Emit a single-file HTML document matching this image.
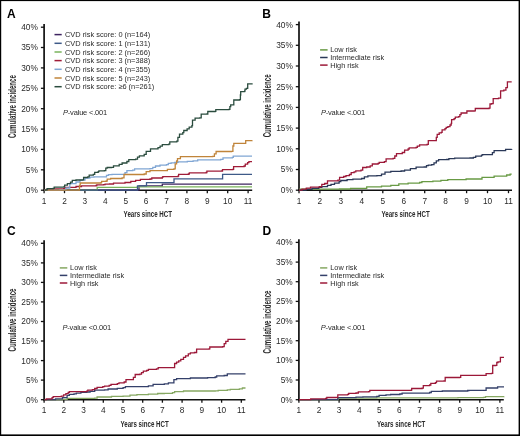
<!DOCTYPE html>
<html><head><meta charset="utf-8"><title>Cumulative incidence</title><style>html,body{margin:0;padding:0;background:#fff;width:520px;height:436px;overflow:hidden}svg{display:block;filter:blur(0.3px)}</style></head><body>
<svg width="520" height="436" viewBox="0 0 520 436">
<style>text{font-family:"Liberation Sans", sans-serif;fill:#2a2a2a}.tl{font-size:8.3px}.lg{font-size:7.2px}.pv{font-size:7.5px}.let{font-size:12px;font-weight:bold;fill:#000}.ttl{font-size:10.4px;font-weight:bold}.ttl2{font-size:9.8px;font-weight:bold}</style>
<rect x="0" y="0" width="520" height="436" fill="#fff"/>
<line x1="44.1" y1="24.0" x2="44.1" y2="191.0" stroke="#111" stroke-width="1.7"/>
<line x1="43.3" y1="190.2" x2="252.2" y2="190.2" stroke="#111" stroke-width="1.5"/>
<line x1="40.9" y1="190.2" x2="44.1" y2="190.2" stroke="#111" stroke-width="1.3"/>
<text x="37.8" y="193.1" class="tl" text-anchor="end">0%</text>
<line x1="40.9" y1="169.8" x2="44.1" y2="169.8" stroke="#111" stroke-width="1.3"/>
<text x="37.8" y="172.7" class="tl" text-anchor="end">5%</text>
<line x1="40.9" y1="149.4" x2="44.1" y2="149.4" stroke="#111" stroke-width="1.3"/>
<text x="37.8" y="152.3" class="tl" text-anchor="end">10%</text>
<line x1="40.9" y1="129.1" x2="44.1" y2="129.1" stroke="#111" stroke-width="1.3"/>
<text x="37.8" y="132.0" class="tl" text-anchor="end">15%</text>
<line x1="40.9" y1="108.7" x2="44.1" y2="108.7" stroke="#111" stroke-width="1.3"/>
<text x="37.8" y="111.6" class="tl" text-anchor="end">20%</text>
<line x1="40.9" y1="88.3" x2="44.1" y2="88.3" stroke="#111" stroke-width="1.3"/>
<text x="37.8" y="91.2" class="tl" text-anchor="end">25%</text>
<line x1="40.9" y1="67.9" x2="44.1" y2="67.9" stroke="#111" stroke-width="1.3"/>
<text x="37.8" y="70.8" class="tl" text-anchor="end">30%</text>
<line x1="40.9" y1="47.5" x2="44.1" y2="47.5" stroke="#111" stroke-width="1.3"/>
<text x="37.8" y="50.4" class="tl" text-anchor="end">35%</text>
<line x1="40.9" y1="27.2" x2="44.1" y2="27.2" stroke="#111" stroke-width="1.3"/>
<text x="37.8" y="30.1" class="tl" text-anchor="end">40%</text>
<line x1="44.1" y1="190.2" x2="44.1" y2="193.2" stroke="#111" stroke-width="1.3"/>
<text x="44.1" y="203.8" class="tl" text-anchor="middle">1</text>
<line x1="64.5" y1="190.2" x2="64.5" y2="193.2" stroke="#111" stroke-width="1.3"/>
<text x="64.5" y="203.8" class="tl" text-anchor="middle">2</text>
<line x1="84.9" y1="190.2" x2="84.9" y2="193.2" stroke="#111" stroke-width="1.3"/>
<text x="84.9" y="203.8" class="tl" text-anchor="middle">3</text>
<line x1="105.3" y1="190.2" x2="105.3" y2="193.2" stroke="#111" stroke-width="1.3"/>
<text x="105.3" y="203.8" class="tl" text-anchor="middle">4</text>
<line x1="125.7" y1="190.2" x2="125.7" y2="193.2" stroke="#111" stroke-width="1.3"/>
<text x="125.7" y="203.8" class="tl" text-anchor="middle">5</text>
<line x1="146.1" y1="190.2" x2="146.1" y2="193.2" stroke="#111" stroke-width="1.3"/>
<text x="146.1" y="203.8" class="tl" text-anchor="middle">6</text>
<line x1="166.5" y1="190.2" x2="166.5" y2="193.2" stroke="#111" stroke-width="1.3"/>
<text x="166.5" y="203.8" class="tl" text-anchor="middle">7</text>
<line x1="186.9" y1="190.2" x2="186.9" y2="193.2" stroke="#111" stroke-width="1.3"/>
<text x="186.9" y="203.8" class="tl" text-anchor="middle">8</text>
<line x1="207.3" y1="190.2" x2="207.3" y2="193.2" stroke="#111" stroke-width="1.3"/>
<text x="207.3" y="203.8" class="tl" text-anchor="middle">9</text>
<line x1="227.7" y1="190.2" x2="227.7" y2="193.2" stroke="#111" stroke-width="1.3"/>
<text x="227.7" y="203.8" class="tl" text-anchor="middle">10</text>
<line x1="248.1" y1="190.2" x2="248.1" y2="193.2" stroke="#111" stroke-width="1.3"/>
<text x="248.1" y="203.8" class="tl" text-anchor="middle">11</text>
<text x="7.0" y="17.8" class="let">A</text>
<text class="ttl" text-anchor="middle" transform="translate(16.1 106.6) rotate(-90) scale(0.59 1)">Cumulative incidence</text>
<text class="ttl2" text-anchor="middle" transform="translate(147.8 216.7) scale(0.63 1)">Years since HCT</text>
<line x1="299.0" y1="21.4" x2="299.0" y2="191.0" stroke="#111" stroke-width="1.7"/>
<line x1="298.2" y1="190.2" x2="512.0" y2="190.2" stroke="#111" stroke-width="1.5"/>
<line x1="295.8" y1="190.2" x2="299.0" y2="190.2" stroke="#111" stroke-width="1.3"/>
<text x="292.8" y="193.1" class="tl" text-anchor="end">0%</text>
<line x1="295.8" y1="169.5" x2="299.0" y2="169.5" stroke="#111" stroke-width="1.3"/>
<text x="292.8" y="172.4" class="tl" text-anchor="end">5%</text>
<line x1="295.8" y1="148.8" x2="299.0" y2="148.8" stroke="#111" stroke-width="1.3"/>
<text x="292.8" y="151.7" class="tl" text-anchor="end">10%</text>
<line x1="295.8" y1="128.1" x2="299.0" y2="128.1" stroke="#111" stroke-width="1.3"/>
<text x="292.8" y="131.0" class="tl" text-anchor="end">15%</text>
<line x1="295.8" y1="107.4" x2="299.0" y2="107.4" stroke="#111" stroke-width="1.3"/>
<text x="292.8" y="110.3" class="tl" text-anchor="end">20%</text>
<line x1="295.8" y1="86.7" x2="299.0" y2="86.7" stroke="#111" stroke-width="1.3"/>
<text x="292.8" y="89.6" class="tl" text-anchor="end">25%</text>
<line x1="295.8" y1="66.0" x2="299.0" y2="66.0" stroke="#111" stroke-width="1.3"/>
<text x="292.8" y="68.9" class="tl" text-anchor="end">30%</text>
<line x1="295.8" y1="45.3" x2="299.0" y2="45.3" stroke="#111" stroke-width="1.3"/>
<text x="292.8" y="48.2" class="tl" text-anchor="end">35%</text>
<line x1="295.8" y1="24.6" x2="299.0" y2="24.6" stroke="#111" stroke-width="1.3"/>
<text x="292.8" y="27.5" class="tl" text-anchor="end">40%</text>
<line x1="299.0" y1="190.2" x2="299.0" y2="193.2" stroke="#111" stroke-width="1.3"/>
<text x="299.0" y="203.8" class="tl" text-anchor="middle">1</text>
<line x1="319.9" y1="190.2" x2="319.9" y2="193.2" stroke="#111" stroke-width="1.3"/>
<text x="319.9" y="203.8" class="tl" text-anchor="middle">2</text>
<line x1="340.9" y1="190.2" x2="340.9" y2="193.2" stroke="#111" stroke-width="1.3"/>
<text x="340.9" y="203.8" class="tl" text-anchor="middle">3</text>
<line x1="361.9" y1="190.2" x2="361.9" y2="193.2" stroke="#111" stroke-width="1.3"/>
<text x="361.9" y="203.8" class="tl" text-anchor="middle">4</text>
<line x1="382.8" y1="190.2" x2="382.8" y2="193.2" stroke="#111" stroke-width="1.3"/>
<text x="382.8" y="203.8" class="tl" text-anchor="middle">5</text>
<line x1="403.8" y1="190.2" x2="403.8" y2="193.2" stroke="#111" stroke-width="1.3"/>
<text x="403.8" y="203.8" class="tl" text-anchor="middle">6</text>
<line x1="424.7" y1="190.2" x2="424.7" y2="193.2" stroke="#111" stroke-width="1.3"/>
<text x="424.7" y="203.8" class="tl" text-anchor="middle">7</text>
<line x1="445.6" y1="190.2" x2="445.6" y2="193.2" stroke="#111" stroke-width="1.3"/>
<text x="445.6" y="203.8" class="tl" text-anchor="middle">8</text>
<line x1="466.6" y1="190.2" x2="466.6" y2="193.2" stroke="#111" stroke-width="1.3"/>
<text x="466.6" y="203.8" class="tl" text-anchor="middle">9</text>
<line x1="487.5" y1="190.2" x2="487.5" y2="193.2" stroke="#111" stroke-width="1.3"/>
<text x="487.5" y="203.8" class="tl" text-anchor="middle">10</text>
<line x1="508.5" y1="190.2" x2="508.5" y2="193.2" stroke="#111" stroke-width="1.3"/>
<text x="508.5" y="203.8" class="tl" text-anchor="middle">11</text>
<text x="262.3" y="17.8" class="let">B</text>
<text class="ttl" text-anchor="middle" transform="translate(271.2 105.9) rotate(-90) scale(0.59 1)">Cumulative incidence</text>
<text class="ttl2" text-anchor="middle" transform="translate(405.6 216.9) scale(0.63 1)">Years since HCT</text>
<line x1="44.1" y1="240.3" x2="44.1" y2="400.5" stroke="#111" stroke-width="1.7"/>
<line x1="43.3" y1="399.7" x2="245.4" y2="399.7" stroke="#111" stroke-width="1.5"/>
<line x1="40.9" y1="399.7" x2="44.1" y2="399.7" stroke="#111" stroke-width="1.3"/>
<text x="37.9" y="402.6" class="tl" text-anchor="end">0%</text>
<line x1="40.9" y1="380.1" x2="44.1" y2="380.1" stroke="#111" stroke-width="1.3"/>
<text x="37.9" y="383.0" class="tl" text-anchor="end">5%</text>
<line x1="40.9" y1="360.6" x2="44.1" y2="360.6" stroke="#111" stroke-width="1.3"/>
<text x="37.9" y="363.5" class="tl" text-anchor="end">10%</text>
<line x1="40.9" y1="341.0" x2="44.1" y2="341.0" stroke="#111" stroke-width="1.3"/>
<text x="37.9" y="343.9" class="tl" text-anchor="end">15%</text>
<line x1="40.9" y1="321.5" x2="44.1" y2="321.5" stroke="#111" stroke-width="1.3"/>
<text x="37.9" y="324.4" class="tl" text-anchor="end">20%</text>
<line x1="40.9" y1="301.9" x2="44.1" y2="301.9" stroke="#111" stroke-width="1.3"/>
<text x="37.9" y="304.8" class="tl" text-anchor="end">25%</text>
<line x1="40.9" y1="282.4" x2="44.1" y2="282.4" stroke="#111" stroke-width="1.3"/>
<text x="37.9" y="285.3" class="tl" text-anchor="end">30%</text>
<line x1="40.9" y1="262.9" x2="44.1" y2="262.9" stroke="#111" stroke-width="1.3"/>
<text x="37.9" y="265.8" class="tl" text-anchor="end">35%</text>
<line x1="40.9" y1="243.3" x2="44.1" y2="243.3" stroke="#111" stroke-width="1.3"/>
<text x="37.9" y="246.2" class="tl" text-anchor="end">40%</text>
<line x1="44.1" y1="399.7" x2="44.1" y2="402.7" stroke="#111" stroke-width="1.3"/>
<text x="44.1" y="413.3" class="tl" text-anchor="middle">1</text>
<line x1="63.8" y1="399.7" x2="63.8" y2="402.7" stroke="#111" stroke-width="1.3"/>
<text x="63.8" y="413.3" class="tl" text-anchor="middle">2</text>
<line x1="83.5" y1="399.7" x2="83.5" y2="402.7" stroke="#111" stroke-width="1.3"/>
<text x="83.5" y="413.3" class="tl" text-anchor="middle">3</text>
<line x1="103.3" y1="399.7" x2="103.3" y2="402.7" stroke="#111" stroke-width="1.3"/>
<text x="103.3" y="413.3" class="tl" text-anchor="middle">4</text>
<line x1="123.0" y1="399.7" x2="123.0" y2="402.7" stroke="#111" stroke-width="1.3"/>
<text x="123.0" y="413.3" class="tl" text-anchor="middle">5</text>
<line x1="142.7" y1="399.7" x2="142.7" y2="402.7" stroke="#111" stroke-width="1.3"/>
<text x="142.7" y="413.3" class="tl" text-anchor="middle">6</text>
<line x1="162.4" y1="399.7" x2="162.4" y2="402.7" stroke="#111" stroke-width="1.3"/>
<text x="162.4" y="413.3" class="tl" text-anchor="middle">7</text>
<line x1="182.1" y1="399.7" x2="182.1" y2="402.7" stroke="#111" stroke-width="1.3"/>
<text x="182.1" y="413.3" class="tl" text-anchor="middle">8</text>
<line x1="201.9" y1="399.7" x2="201.9" y2="402.7" stroke="#111" stroke-width="1.3"/>
<text x="201.9" y="413.3" class="tl" text-anchor="middle">9</text>
<line x1="221.6" y1="399.7" x2="221.6" y2="402.7" stroke="#111" stroke-width="1.3"/>
<text x="221.6" y="413.3" class="tl" text-anchor="middle">10</text>
<line x1="241.3" y1="399.7" x2="241.3" y2="402.7" stroke="#111" stroke-width="1.3"/>
<text x="241.3" y="413.3" class="tl" text-anchor="middle">11</text>
<text x="7.0" y="235.1" class="let">C</text>
<text class="ttl" text-anchor="middle" transform="translate(16.1 320.0) rotate(-90) scale(0.59 1)">Cumulative incidence</text>
<text class="ttl2" text-anchor="middle" transform="translate(144.6 426.6) scale(0.63 1)">Years since HCT</text>
<line x1="298.9" y1="239.2" x2="298.9" y2="400.5" stroke="#111" stroke-width="1.7"/>
<line x1="298.1" y1="399.7" x2="503.8" y2="399.7" stroke="#111" stroke-width="1.5"/>
<line x1="295.7" y1="399.7" x2="298.9" y2="399.7" stroke="#111" stroke-width="1.3"/>
<text x="292.7" y="402.6" class="tl" text-anchor="end">0%</text>
<line x1="295.7" y1="380.0" x2="298.9" y2="380.0" stroke="#111" stroke-width="1.3"/>
<text x="292.7" y="382.9" class="tl" text-anchor="end">5%</text>
<line x1="295.7" y1="360.4" x2="298.9" y2="360.4" stroke="#111" stroke-width="1.3"/>
<text x="292.7" y="363.3" class="tl" text-anchor="end">10%</text>
<line x1="295.7" y1="340.7" x2="298.9" y2="340.7" stroke="#111" stroke-width="1.3"/>
<text x="292.7" y="343.6" class="tl" text-anchor="end">15%</text>
<line x1="295.7" y1="321.1" x2="298.9" y2="321.1" stroke="#111" stroke-width="1.3"/>
<text x="292.7" y="324.0" class="tl" text-anchor="end">20%</text>
<line x1="295.7" y1="301.4" x2="298.9" y2="301.4" stroke="#111" stroke-width="1.3"/>
<text x="292.7" y="304.3" class="tl" text-anchor="end">25%</text>
<line x1="295.7" y1="281.7" x2="298.9" y2="281.7" stroke="#111" stroke-width="1.3"/>
<text x="292.7" y="284.6" class="tl" text-anchor="end">30%</text>
<line x1="295.7" y1="262.1" x2="298.9" y2="262.1" stroke="#111" stroke-width="1.3"/>
<text x="292.7" y="265.0" class="tl" text-anchor="end">35%</text>
<line x1="295.7" y1="242.4" x2="298.9" y2="242.4" stroke="#111" stroke-width="1.3"/>
<text x="292.7" y="245.3" class="tl" text-anchor="end">40%</text>
<line x1="298.9" y1="399.7" x2="298.9" y2="402.7" stroke="#111" stroke-width="1.3"/>
<text x="298.9" y="413.3" class="tl" text-anchor="middle">1</text>
<line x1="319.0" y1="399.7" x2="319.0" y2="402.7" stroke="#111" stroke-width="1.3"/>
<text x="319.0" y="413.3" class="tl" text-anchor="middle">2</text>
<line x1="339.1" y1="399.7" x2="339.1" y2="402.7" stroke="#111" stroke-width="1.3"/>
<text x="339.1" y="413.3" class="tl" text-anchor="middle">3</text>
<line x1="359.2" y1="399.7" x2="359.2" y2="402.7" stroke="#111" stroke-width="1.3"/>
<text x="359.2" y="413.3" class="tl" text-anchor="middle">4</text>
<line x1="379.3" y1="399.7" x2="379.3" y2="402.7" stroke="#111" stroke-width="1.3"/>
<text x="379.3" y="413.3" class="tl" text-anchor="middle">5</text>
<line x1="399.4" y1="399.7" x2="399.4" y2="402.7" stroke="#111" stroke-width="1.3"/>
<text x="399.4" y="413.3" class="tl" text-anchor="middle">6</text>
<line x1="419.5" y1="399.7" x2="419.5" y2="402.7" stroke="#111" stroke-width="1.3"/>
<text x="419.5" y="413.3" class="tl" text-anchor="middle">7</text>
<line x1="439.6" y1="399.7" x2="439.6" y2="402.7" stroke="#111" stroke-width="1.3"/>
<text x="439.6" y="413.3" class="tl" text-anchor="middle">8</text>
<line x1="459.7" y1="399.7" x2="459.7" y2="402.7" stroke="#111" stroke-width="1.3"/>
<text x="459.7" y="413.3" class="tl" text-anchor="middle">9</text>
<line x1="479.8" y1="399.7" x2="479.8" y2="402.7" stroke="#111" stroke-width="1.3"/>
<text x="479.8" y="413.3" class="tl" text-anchor="middle">10</text>
<line x1="499.9" y1="399.7" x2="499.9" y2="402.7" stroke="#111" stroke-width="1.3"/>
<text x="499.9" y="413.3" class="tl" text-anchor="middle">11</text>
<text x="262.5" y="235.1" class="let">D</text>
<text class="ttl" text-anchor="middle" transform="translate(271.1 322.0) rotate(-90) scale(0.59 1)">Cumulative incidence</text>
<text class="ttl2" text-anchor="middle" transform="translate(401.2 426.6) scale(0.63 1)">Years since HCT</text>
<path d="M44.5 190.2H139.0V190.2H139.0V185.8H162.2V185.8H162.3V184.2H252.0V184.2" fill="none" stroke="#3e2460" stroke-width="1.30" stroke-linejoin="miter"/>
<path d="M44.5 190.2H97.0V190.2H97.2V187.3H137.2V187.2H137.4V186.8H252.0V186.8" fill="none" stroke="#7ab35c" stroke-width="1.30" stroke-linejoin="miter"/>
<path d="M44.5 190.2H137.5V190.2H137.5V185.8H146.5V185.8H146.5V182.7H173.8V182.7H174.0V178.9H222.2V178.9H222.6V174.4H252.0V174.4" fill="none" stroke="#3e5a88" stroke-width="1.30" stroke-linejoin="miter"/>
<path d="M44.5 190.2H46.3V189.5H53.8V188.9H63.7V188.6H64.9V187.4H76.0V186.5H81.5V185.8H96.1V185.5H96.8V184.8H103.7V184.6H105.1V184.1H109.6V184.0H113.5V183.2H125.0V182.5H130.8V181.3H135.6V180.3H140.4V179.3H150.0V179.0H151.8V178.0H162.3V177.4H162.8V176.6H178.0V176.1H178.6V174.4H188.4V174.0H189.3V172.8H206.2V172.5H206.9V171.2H221.5V171.0H222.5V169.7H232.8V169.4H233.6V166.6H244.1V166.0H245.3V164.2H247.6V162.6H248.9V161.7H252.0V161.7" fill="none" stroke="#a01c38" stroke-width="1.30" stroke-linejoin="miter"/>
<path d="M44.5 190.2H60.0V189.6H66.0V188.0H69.8V183.7H76.0V182.0H80.0V180.2H85.0V178.2H89.9V177.2H94.0V176.8H105.1V176.8H106.5V175.4H108.5V174.7H112.0V174.4H125.0V172.6H126.9V170.7H132.7V170.2H134.6V168.8H150.0V168.6H152.8V167.4H155.5V166.0H160.0V165.1H166.5V164.7H168.3V163.3H171.1V162.8H174.8V162.4H178.0V161.9H187.3V161.3H193.1V160.8H197.7V159.8H220.7V159.4H223.0V157.9H232.4V157.4H233.3V156.1H252.0V156.1" fill="none" stroke="#80a6d4" stroke-width="1.30" stroke-linejoin="miter"/>
<path d="M44.5 190.2H78.8V190.0H79.5V185.5H80.2V183.0H101.0V182.7H101.6V181.3H106.2V181.0H107.2V179.2H110.6V178.5H122.1V177.9H124.0V174.5H144.2V174.0H146.2V171.6H150.0V170.7H166.5V170.6H167.4V169.3H173.9V168.8H175.2V163.8H176.6V161.0H177.5V158.7H180.4V156.7H212.7V156.4H214.4V153.8H216.1V151.5H231.5V151.3H232.9V146.0H233.8V143.3H244.8V143.3H245.7V140.6H252.0V140.3" fill="none" stroke="#c0843a" stroke-width="1.30" stroke-linejoin="miter"/>
<path d="M44.5 190.2H45.8V189.8H47.1V188.6H53.2V188.3H54.2V187.1H63.7V186.8H64.6V185.2H67.4V183.7H70.5V182.2H72.3V180.3H76.0V180.0H82.2V179.9H83.6V177.5H87.8V176.8H89.2V175.1H93.3V174.4H94.7V172.3H98.2V171.6H98.9V170.9H104.4V170.6H105.8V168.2H107.2V167.5H111.5V167.3H113.5V165.9H119.2V164.4H122.1V163.0H126.9V161.5H128.8V159.6H135.6V159.1H137.5V157.2H139.4V155.8H144.2V154.3H146.2V151.4H150.5V148.8H158.0V147.7H160.1V146.1H162.3V144.7H168.8V144.2H169.8V141.8H176.8V141.2H177.9V137.4H179.5V134.2H182.8V132.6H183.8V130.5H187.1V128.8H189.2V127.2H191.9V125.6H192.5V120.2H195.1V118.1H199.7V117.8H201.2V114.2H207.0V114.0H207.8V111.5H215.1V111.4H215.8V109.6H228.9V109.4H229.9V106.6H230.7V104.9H233.8V100.0H239.6V99.6H240.4V95.0H240.7V91.7H244.6V91.1H245.0V89.2H246.4V88.4H247.7V83.9H252.0V83.3" fill="none" stroke="#2a4c3e" stroke-width="1.30" stroke-linejoin="miter"/>
<path d="M299.0 189.2H320.0V189.1H339.5V189.0H350.6V188.3H366.7V186.9H381.5V186.2H390.8V185.4H398.8V183.9H408.1V183.1H419.6V182.5H421.9V181.6H432.9V181.1H440.9V180.4H447.8V179.6H466.1V179.0H480.9V179.0H482.0V177.3H492.9V177.3H494.1V176.1H504.4V176.1H506.7V175.0H510.1V174.2H511.7V174.2" fill="none" stroke="#689a44" stroke-width="1.30" stroke-linejoin="miter"/>
<path d="M299.0 190.2H306.0V189.4H312.0V188.4H318.8V187.3H321.8V186.6H327.5V185.4H331.0V184.3H334.5V183.1H339.1V181.6H340.8V180.5H347.1V179.6H352.9V179.1H361.6V178.5H364.4V176.8H367.9V175.8H376.9V175.6H381.5V174.2H385.0V172.1H390.8V171.3H401.1V171.0H404.6V170.1H410.4V168.7H416.1V167.2H424.2V167.0H426.5V165.6H428.3V165.2H431.7V164.7H434.0V162.9H436.3V160.9H438.6V159.7H446.6V159.5H448.9V158.6H454.7V158.1H470.0V158.0H473.4V157.4H475.7V156.1H481.5V155.1H482.6V154.7H490.6V154.7H492.4V152.6H494.1V150.6H504.4V150.6H505.6V149.4H511.7V149.2" fill="none" stroke="#2a3858" stroke-width="1.30" stroke-linejoin="miter"/>
<path d="M299.0 190.2H302.0V189.2H306.3V188.2H310.5V187.1H316.0V187.1H319.5V186.6H321.8V184.3H324.7V183.5H327.5V180.8H337.9V180.2H339.6V177.3H343.7V176.5H346.0V175.6H349.4V174.5H351.2V172.7H354.1V171.9H355.8V170.8H361.0V170.1H362.7V167.5H366.7V167.0H370.2V165.8H372.3V164.0H378.1V163.4H379.2V162.3H384.4V161.7H386.1V158.8H393.1V158.3H394.8V156.0H396.5V153.6H402.3V152.5H404.6V150.2H408.1V149.0H409.2V147.9H416.1V147.3H417.3V146.1H419.6V144.8H427.1V144.4H428.3V140.7H435.1V140.6H436.3V137.3H437.2V134.4H439.2V132.8H441.3V132.4H442.1V129.9H445.0V128.7H446.2V127.4H447.9V126.6H450.0V125.0H451.2V123.3H451.6V119.6H454.1V118.7H455.3V117.1H458.6V116.7H459.9V114.6H461.1V113.0H466.9V111.0H474.2V110.8H475.3V108.5H489.0V108.2H490.0V104.0H491.6V103.6H493.2V98.7H498.5V98.2H500.6V90.8H503.8V90.2H505.9V87.6H507.4V81.8H511.7V81.8" fill="none" stroke="#9c1838" stroke-width="1.30" stroke-linejoin="miter"/>
<path d="M44.6 399.6H62.5V399.4H67.1V398.3H94.7V398.1H97.1V397.0H111.5V396.4H123.1V396.1H130.0V395.2H136.9V394.6H148.4V394.1H157.7V393.5H164.3V393.3H172.5V392.7H174.6V391.7H183.5V391.0H215.2V390.9H218.2V390.3H227.3V389.8H230.3V389.4H239.4V388.8H242.4V388.0H245.5V388.0" fill="none" stroke="#86a862" stroke-width="1.30" stroke-linejoin="miter"/>
<path d="M44.6 399.6H55.5V398.9H62.5V397.7H67.1V395.4H69.4V394.3H74.0V393.9H76.3V393.1H80.9V392.3H86.7V392.0H90.1V391.4H94.7V390.2H104.6V389.8H108.1V389.0H117.3V388.3H123.1V387.7H125.4V386.6H146.1V386.6H148.4V385.8H153.1V384.3H164.3V383.9H168.4V382.8H173.9V379.7H176.6V378.6H190.4V378.0H207.6V377.6H215.2V377.0H216.7V375.8H224.2V375.5H227.3V373.9H245.5V373.9" fill="none" stroke="#34406a" stroke-width="1.30" stroke-linejoin="miter"/>
<path d="M44.6 399.6H46.3V398.9H52.1V397.7H53.2V396.6H61.3V396.2H63.6V394.8H65.9V393.7H68.2V392.3H69.4V391.6H86.7V391.1H87.8V390.2H92.4V389.6H94.7V388.5H97.1V387.3H102.8V386.6H104.6V386.2H109.2V385.4H111.0V384.3H117.3V383.7H119.0V382.8H124.2V382.0H126.0V379.6H131.1V379.6H133.4V377.3H135.2V374.5H139.8V374.2H141.5V372.7H143.3V371.2H146.7V370.4H148.4V369.3H156.5V368.8H158.2V367.6H173.2V367.6H174.6V363.5H176.6V362.1H178.7V360.8H180.8V359.4H183.5V357.3H185.6V355.9H188.3V353.9H190.4V352.8H194.5V352.5H196.6V349.1H209.1V348.9H209.8V347.0H222.7V346.7H224.2V343.6H225.8V341.4H228.0V339.4H245.5V339.4" fill="none" stroke="#9c1838" stroke-width="1.30" stroke-linejoin="miter"/>
<path d="M299.0 399.7H337.8V399.6H338.2V398.1H376.8V397.8H458.0V397.6H483.5V397.4H485.5V396.7H504.0V396.6" fill="none" stroke="#86a862" stroke-width="1.30" stroke-linejoin="miter"/>
<path d="M299.0 399.7H320.0V399.6H337.8V397.6H356.0V397.1H362.9V396.8H376.8V396.3H379.1V395.4H386.0V394.8H390.6V394.5H399.8V394.0H402.1V393.2H421.5V393.1H429.6V392.5H431.3V391.4H442.3V391.0H467.7V390.5H469.0V390.3H484.3V390.3H486.1V388.0H496.4V388.0H497.6V386.8H504.0V386.8" fill="none" stroke="#34406a" stroke-width="1.30" stroke-linejoin="miter"/>
<path d="M299.0 399.7H310.7V398.9H325.7V398.4H326.8V397.5H336.1V397.3H337.8V394.8H347.6V394.4H348.7V393.3H356.0V393.0H358.3V391.9H368.7V391.7H369.8V390.4H411.2V390.1H411.7V388.5H422.1V388.1H423.3V385.6H429.6V385.0H430.8V383.3H435.4V382.7H436.5V381.2H444.0V381.0H445.2V377.5H459.6V377.3H460.7V375.3H484.9V375.3H486.1V373.6H491.5V373.3H492.7V365.5H495.7V365.3H496.8V362.5H498.0V361.9H500.4V357.4H504.0V357.4" fill="none" stroke="#9c1838" stroke-width="1.30" stroke-linejoin="miter"/>
<line x1="54.5" y1="34.6" x2="61.7" y2="34.6" stroke="#3e2460" stroke-width="1.5"/>
<text x="65.0" y="37.1" class="lg" style="font-size:7.40px">CVD risk score: 0 (n=164)</text>
<line x1="54.5" y1="43.3" x2="61.7" y2="43.3" stroke="#3e5a88" stroke-width="1.5"/>
<text x="65.0" y="45.8" class="lg" style="font-size:7.40px">CVD risk score: 1 (n=131)</text>
<line x1="54.5" y1="52.0" x2="61.7" y2="52.0" stroke="#7ab35c" stroke-width="1.5"/>
<text x="65.0" y="54.5" class="lg" style="font-size:7.40px">CVD risk score: 2 (n=266)</text>
<line x1="54.5" y1="60.6" x2="61.7" y2="60.6" stroke="#a01c38" stroke-width="1.5"/>
<text x="65.0" y="63.1" class="lg" style="font-size:7.40px">CVD risk score: 3 (n=388)</text>
<line x1="54.5" y1="69.3" x2="61.7" y2="69.3" stroke="#80a6d4" stroke-width="1.5"/>
<text x="65.0" y="71.8" class="lg" style="font-size:7.40px">CVD risk score: 4 (n=355)</text>
<line x1="54.5" y1="78.0" x2="61.7" y2="78.0" stroke="#c0843a" stroke-width="1.5"/>
<text x="65.0" y="80.5" class="lg" style="font-size:7.40px">CVD risk score: 5 (n=243)</text>
<line x1="54.5" y1="86.7" x2="61.7" y2="86.7" stroke="#2a4c3e" stroke-width="1.5"/>
<text x="65.0" y="89.2" class="lg" style="font-size:7.40px">CVD risk score: ≥6 (n=261)</text>
<line x1="320.1" y1="49.9" x2="327.6" y2="49.9" stroke="#689a44" stroke-width="1.5"/>
<text x="330.2" y="52.4" class="lg" style="font-size:7.30px">Low risk</text>
<line x1="320.1" y1="57.5" x2="327.6" y2="57.5" stroke="#2a3858" stroke-width="1.5"/>
<text x="330.2" y="60.0" class="lg" style="font-size:7.30px">Intermediate risk</text>
<line x1="320.1" y1="65.1" x2="327.6" y2="65.1" stroke="#9c1838" stroke-width="1.5"/>
<text x="330.2" y="67.6" class="lg" style="font-size:7.30px">High risk</text>
<line x1="59.8" y1="267.9" x2="67.3" y2="267.9" stroke="#86a862" stroke-width="1.5"/>
<text x="70.1" y="270.4" class="lg" style="font-size:7.30px">Low risk</text>
<line x1="59.8" y1="275.4" x2="67.3" y2="275.4" stroke="#34406a" stroke-width="1.5"/>
<text x="70.1" y="277.9" class="lg" style="font-size:7.30px">Intermediate risk</text>
<line x1="59.8" y1="283.0" x2="67.3" y2="283.0" stroke="#9c1838" stroke-width="1.5"/>
<text x="70.1" y="285.5" class="lg" style="font-size:7.30px">High risk</text>
<line x1="320.1" y1="267.9" x2="327.3" y2="267.9" stroke="#86a862" stroke-width="1.5"/>
<text x="330.3" y="270.4" class="lg" style="font-size:7.30px">Low risk</text>
<line x1="320.1" y1="275.4" x2="327.3" y2="275.4" stroke="#34406a" stroke-width="1.5"/>
<text x="330.3" y="277.9" class="lg" style="font-size:7.30px">Intermediate risk</text>
<line x1="320.1" y1="283.0" x2="327.3" y2="283.0" stroke="#9c1838" stroke-width="1.5"/>
<text x="330.3" y="285.5" class="lg" style="font-size:7.30px">High risk</text>
<text x="63.0" y="114.9" class="pv" textLength="44.2" lengthAdjust="spacing"><tspan font-style="italic">P</tspan>-value &lt;.001</text>
<text x="320.9" y="114.9" class="pv" textLength="44.2" lengthAdjust="spacing"><tspan font-style="italic">P</tspan>-value &lt;.001</text>
<text x="62.4" y="329.9" class="pv" textLength="48.8" lengthAdjust="spacing"><tspan font-style="italic">P</tspan>-value &lt;0.001</text>
<text x="320.7" y="329.9" class="pv" textLength="44.6" lengthAdjust="spacing"><tspan font-style="italic">P</tspan>-value &lt;.001</text>
<rect x="0" y="0" width="520" height="1.1" fill="#000"/>
<rect x="0" y="0" width="1.2" height="436" fill="#000"/>
<rect x="518.6" y="0" width="1.4" height="436" fill="#000"/>
<rect x="0" y="434.4" width="520" height="1.6" fill="#000"/>
</svg>
</body></html>
